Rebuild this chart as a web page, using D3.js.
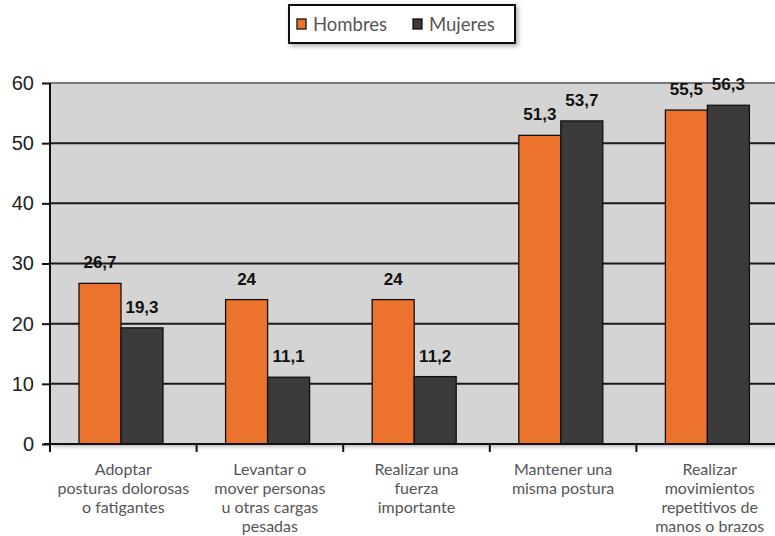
<!DOCTYPE html>
<html><head><meta charset="utf-8">
<script src="https://cdn.jsdelivr.net/npm/d3@7"></script>
<style>
body{margin:0;background:#fff;}
svg{display:block;}
</style></head>
<body>
<svg id="chart" width="775" height="536"></svg>
<script>
const categories = [
  ["Adoptar","posturas dolorosas","o fatigantes"],
  ["Levantar o","mover personas","u otras cargas","pesadas"],
  ["Realizar una","fuerza","importante"],
  ["Mantener una","misma postura"],
  ["Realizar","movimientos","repetitivos de","manos o brazos"]
];
const series = ["Hombres","Mujeres"];
const hombres = [26.7, 24, 24, 51.3, 55.5];
const mujeres = [19.3, 11.1, 11.2, 53.7, 56.3];
const valueLabels = [["26,7","24","24","51,3","55,5"],["19,3","11,1","11,2","53,7","56,3"]];
const yTicks = [0,10,20,30,40,50,60];
const colors = ["#ec732d","#3a3a3a"];

const svg = d3.select("#chart");
const catIdx = d3.range(categories.length);
const x0 = d3.scaleBand().domain(catIdx).range([50, 783]).padding(0);
const x1 = d3.scaleBand().domain(series).range([29, 113]).padding(0);
const y = d3.scaleLinear().domain([0,60]).range([444, 83]);

const defs = svg.append("defs");
const f = defs.append("filter").attr("id","sh").attr("x","-10%").attr("y","-20%").attr("width","130%").attr("height","160%");
f.append("feDropShadow").attr("dx",2).attr("dy",2).attr("stdDeviation",2.5).attr("flood-color","#000").attr("flood-opacity",0.35);

svg.append("rect").attr("x",50).attr("y",y(60)).attr("width",783-50).attr("height",y(0)-y(60))
  .attr("fill","#d4d4d4").attr("filter","url(#sh)");

svg.append("g").selectAll("line").data(yTicks.filter(d=>d>0)).join("line")
  .attr("x1",50).attr("x2",783).attr("y1",d=>y(d)).attr("y2",d=>y(d))
  .attr("stroke", d=> d===60 ? "#777" : "#1a1a1a").attr("stroke-width",2);

const data = catIdx.map(i=>({i, vals:[hombres[i], mujeres[i]]}));
const g = svg.append("g").selectAll("g").data(data).join("g")
  .attr("transform",d=>`translate(${x0(d.i)},0)`);
g.selectAll("rect").data(d=>d.vals.map((v,k)=>({v,k,i:d.i}))).join("rect")
  .attr("x",d=>x1(series[d.k])).attr("width",x1.bandwidth())
  .attr("y",d=>y(d.v)).attr("height",d=>y(0)-y(d.v))
  .attr("fill",d=>colors[d.k]).attr("stroke","#111").attr("stroke-width",1.3);
g.selectAll("text").data(d=>d.vals.map((v,k)=>({v,k,i:d.i}))).join("text")
  .attr("x",d=>x1(series[d.k])+x1.bandwidth()/2).attr("y",d=>y(d.v)-15)
  .attr("text-anchor","middle").attr("font-family","Liberation Sans, Arial, sans-serif")
  .attr("font-weight","bold").attr("font-size",17).attr("fill","#111")
  .text(d=>valueLabels[d.k][d.i]);

const yAxis = d3.axisLeft(y).tickValues(yTicks).tickSize(8).tickPadding(8).tickFormat(d3.format("d"));
const ya = svg.append("g").attr("transform","translate(50,0)").call(yAxis);
ya.select(".domain").attr("d",`M0,${y(60)}V${y(0)+6}`).attr("stroke","#111").attr("stroke-width",2);
ya.selectAll(".tick line").attr("stroke","#111").attr("stroke-width",2);
ya.selectAll(".tick text").attr("font-family","Liberation Sans, Arial, sans-serif").attr("font-size",20).attr("fill","#222");

svg.append("line").attr("x1",44).attr("x2",783).attr("y1",y(0)).attr("y2",y(0)).attr("stroke","#111").attr("stroke-width",2);
svg.append("g").selectAll("line").data(catIdx).join("line")
  .attr("x1",d=>x0(d)).attr("x2",d=>x0(d)).attr("y1",y(0)).attr("y2",y(0)+8)
  .attr("stroke","#111").attr("stroke-width",2);

const cl = svg.append("g").selectAll("text").data(catIdx).join("text")
  .attr("x",d=>x0(d)+x0.bandwidth()/2).attr("y",475)
  .attr("text-anchor","middle").attr("font-family","Lato, sans-serif")
  .attr("font-size",16).attr("fill","#555");
cl.selectAll("tspan").data(d=>categories[d]).join("tspan")
  .attr("x",function(){return this.parentNode.getAttribute("x");})
  .attr("dy",(d,k)=>k===0?0:19).text(d=>d);

const lg = svg.append("g");
lg.append("rect").attr("x",289).attr("y",5).attr("width",226).attr("height",38)
  .attr("fill","#fff").attr("stroke","#111").attr("stroke-width",2).attr("filter","url(#sh)");
const lx = [297, 413];
series.forEach((s,k)=>{
  lg.append("rect").attr("x",lx[k]).attr("y",19).attr("width",9).attr("height",10)
    .attr("fill",colors[k]).attr("stroke","#111").attr("stroke-width",1.3);
  lg.append("text").attr("x",lx[k]+16).attr("y",31).attr("font-family","Lato, sans-serif")
    .attr("font-size",18.5).attr("fill","#555").text(s);
});
</script>
</body></html>
